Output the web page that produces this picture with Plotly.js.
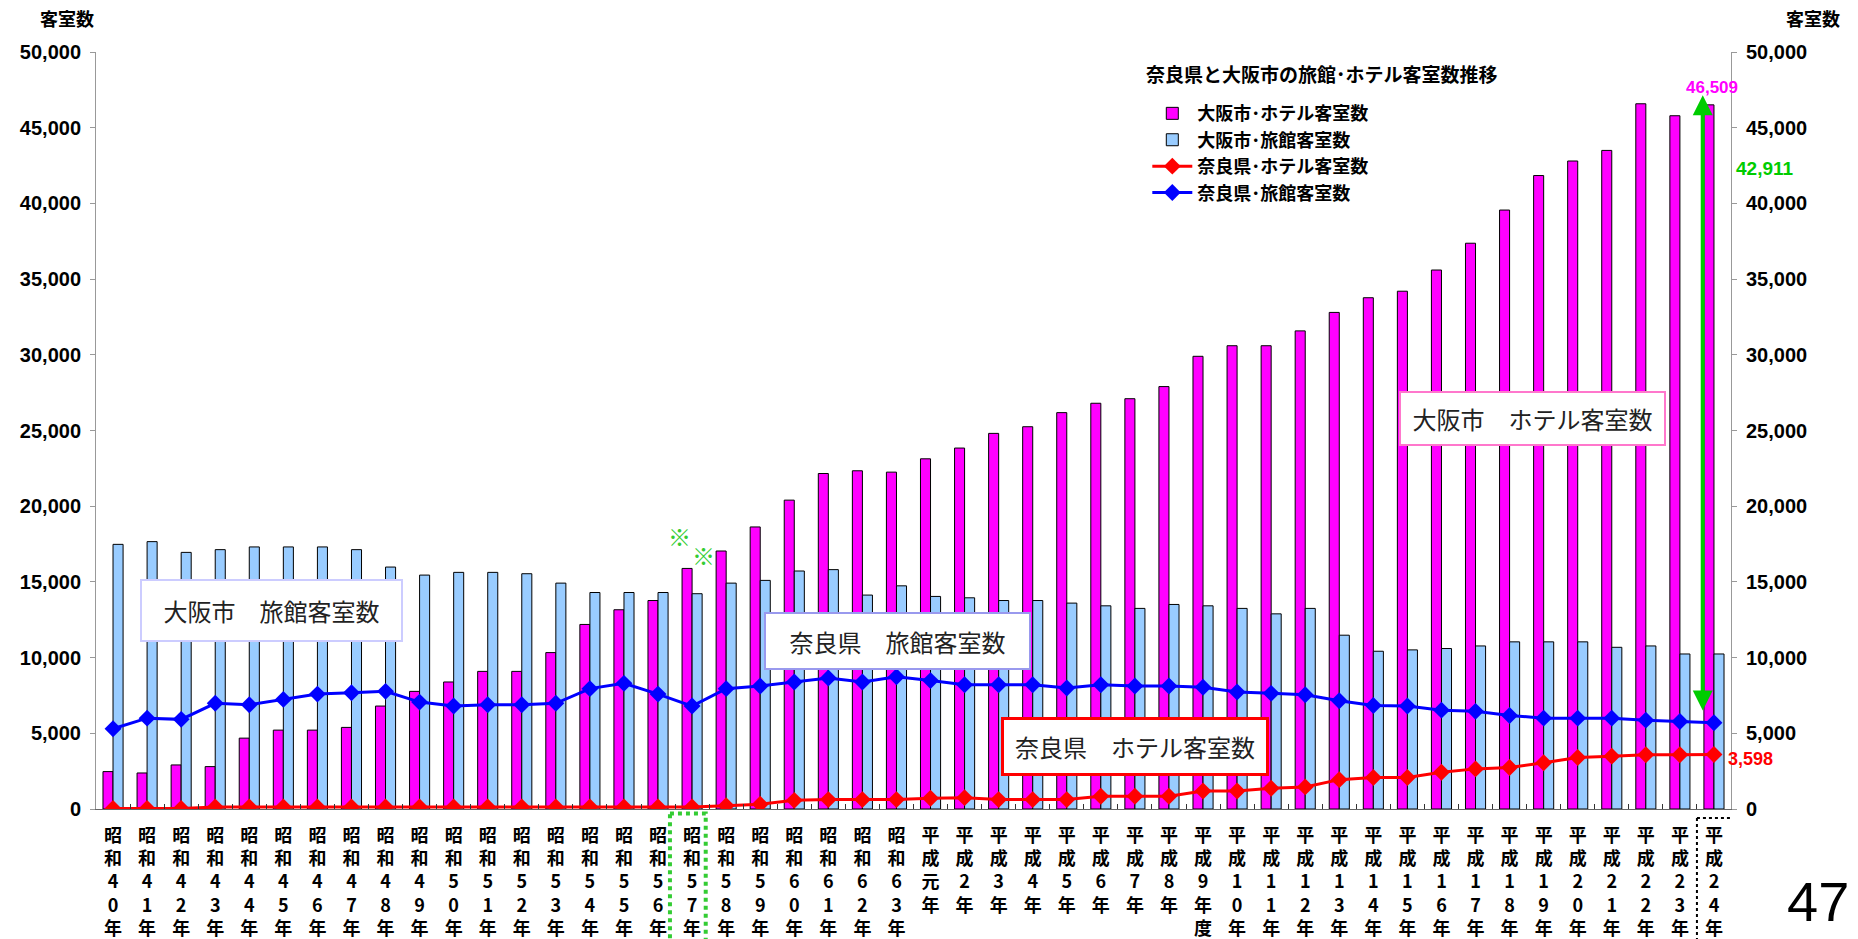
<!DOCTYPE html>
<html>
<head>
<meta charset="utf-8">
<script src="https://cdn.plot.ly/plotly-3.0.1.min.js"></script>
<style>
  html, body { margin: 0; padding: 0; background: #ffffff; }
  #chart { width: 1858px; height: 939px; }
</style>
</head>
<body>
<div id="chart"></div>
<script>
// ---------- data ----------
const yearLabels = [
  "昭和40年","昭和41年","昭和42年","昭和43年","昭和44年","昭和45年","昭和46年","昭和47年",
  "昭和48年","昭和49年","昭和50年","昭和51年","昭和52年","昭和53年","昭和54年","昭和55年",
  "昭和56年","昭和57年","昭和58年","昭和59年","昭和60年","昭和61年","昭和62年","昭和63年",
  "平成元年","平成2年","平成3年","平成4年","平成5年","平成6年","平成7年","平成8年",
  "平成9年度","平成10年","平成11年","平成12年","平成13年","平成14年","平成15年","平成16年",
  "平成17年","平成18年","平成19年","平成20年","平成21年","平成22年","平成23年","平成24年"
];

const osakaHotel = [
  2470, 2380, 2910, 2800, 4680, 5210, 5210, 5390,
  6800, 7770, 8390, 9090, 9090, 10330, 12190, 13160,
  13770, 15890, 17040, 18630, 20400, 22160, 22340, 22250,
  23130, 23840, 24810, 25250, 26180, 26800, 27100, 27900,
  29900, 30600, 30600, 31580, 32800, 33770, 34200, 35600,
  37370, 39560, 41840, 42800, 43500, 46580, 45790, 46509
];

const osakaRyokan = [
  17480, 17660, 16950, 17130, 17310, 17310, 17310, 17130,
  15980, 15450, 15630, 15630, 15540, 14920, 14300, 14300,
  14300, 14220, 14920, 15100, 15720, 15810, 14130, 14740,
  14040, 13950, 13770, 13770, 13600, 13420, 13250, 13510,
  13420, 13250, 12890, 13250, 11480, 10420, 10510, 10600,
  10770, 11040, 11040, 11040, 10680, 10770, 10240, 10240
];

const naraHotel = [
  30, 30, 30, 130, 130, 130, 130, 130,
  130, 130, 130, 130, 130, 130, 130, 130,
  130, 130, 220, 310, 570, 620, 620, 620,
  710, 750, 620, 620, 620, 840, 840, 840,
  1190, 1190, 1370, 1460, 1940, 2080, 2080, 2430,
  2650, 2740, 3050, 3400, 3490, 3580, 3580, 3598
];

const naraRyokan = [
  5300, 6000, 5920, 6980, 6890, 7240, 7590, 7680,
  7770, 7060, 6800, 6890, 6890, 6980, 7950, 8300,
  7590, 6800, 7950, 8120, 8390, 8650, 8390, 8740,
  8480, 8210, 8210, 8210, 7990, 8210, 8120, 8120,
  8040, 7730, 7640, 7550, 7150, 6840, 6800, 6530,
  6450, 6180, 6000, 6000, 6000, 5870, 5780, 5700
];

const seriesNames = ["大阪市･ホテル客室数", "大阪市･旅館客室数", "奈良県･ホテル客室数", "奈良県･旅館客室数"];
const chartTitle = "奈良県と大阪市の旅館･ホテル客室数推移";
const axisTitle = "客室数";
const boxLabels = ["大阪市　旅館客室数", "奈良県　旅館客室数", "奈良県　ホテル客室数", "大阪市　ホテル客室数"];
const pageNumber = "47";
const yTicks = [0, 5000, 10000, 15000, 20000, 25000, 30000, 35000, 40000, 45000, 50000];

// vertical stacked tick labels built from the label strings
const cats = yearLabels.map(s => Array.from(s).join("<br>"));
const last = cats.length - 1;
const gap = osakaHotel[last] - naraHotel[last];

const fmt = v => v.toLocaleString("en-US");

const JP = "Noto Sans CJK JP, sans-serif";
const NUM = "Liberation Sans, Arial, Noto Sans CJK JP, sans-serif";

const traces = [
  {
    type: "bar", name: seriesNames[0], x: cats, y: osakaHotel,
    marker: { color: "#ff00ff", line: { color: "#000000", width: 1 } },
    yaxis: "y", hoverinfo: "skip"
  },
  {
    type: "bar", name: seriesNames[1], x: cats, y: osakaRyokan,
    marker: { color: "#99ccff", line: { color: "#000000", width: 1 } },
    yaxis: "y", hoverinfo: "skip"
  },
  {
    type: "scatter", mode: "lines+markers", name: seriesNames[2], x: cats, y: naraHotel,
    line: { color: "#ff0000", width: 3 },
    marker: { symbol: "diamond", size: 13, color: "#ff0000" },
    yaxis: "y2", hoverinfo: "skip"
  },
  {
    type: "scatter", mode: "lines+markers", name: seriesNames[3], x: cats, y: naraRyokan,
    line: { color: "#0000ff", width: 3 },
    marker: { symbol: "diamond", size: 13, color: "#0000ff" },
    yaxis: "y2", hoverinfo: "skip"
  }
];

const boxStyle = (text, x, y, border, bw, w, h) => ({
  text: text, xref: "paper", yref: "paper", x: x, y: y,
  xanchor: "center", yanchor: "middle", showarrow: false,
  bgcolor: "#ffffff", bordercolor: border, borderwidth: bw, borderpad: 0,
  width: w, height: h,
  font: { family: JP, size: 24, color: "#222222" }
});

const annotations = [
  // axis titles
  { text: axisTitle, xref: "paper", yref: "paper", x: -0.018, y: 1.045, xanchor: "center", yanchor: "middle",
    showarrow: false, font: { family: JP, size: 18, color: "#000", weight: "bold" } },
  { text: axisTitle, xref: "paper", yref: "paper", x: 1.050, y: 1.045, xanchor: "center", yanchor: "middle",
    showarrow: false, font: { family: JP, size: 18, color: "#000", weight: "bold" } },
  // chart title (above legend)
  { text: chartTitle, xref: "paper", yref: "paper", x: 0.641, y: 0.971, xanchor: "left", yanchor: "middle",
    showarrow: false, font: { family: JP, size: 19, color: "#000", weight: "bold" } },
  // text boxes
  boxStyle(boxLabels[0], 0.1073, 0.2616, "#ccccff", 2, 259, 59),
  boxStyle(boxLabels[1], 0.4905, 0.2219, "#9999ee", 2, 263, 54),
  boxStyle(boxLabels[2], 0.6355, 0.0832, "#ff0000", 3, 262, 53),
  boxStyle(boxLabels[3], 0.8783, 0.5165, "#ff77cc", 2, 263, 51),
  // green double arrow
  { text: "", x: last - 0.33, y: 47150, ax: last - 0.33, ay: 6400, xref: "x", yref: "y", axref: "x", ayref: "y",
    showarrow: true, arrowside: "end+start", arrowhead: 2, arrowsize: 1, arrowwidth: 4, arrowcolor: "#00cc00" },
  // value labels
  { text: fmt(osakaHotel[last]), x: last, y: osakaHotel[last], xref: "x", yref: "y",
    xanchor: "center", yanchor: "bottom", yshift: 6, xshift: -2, showarrow: false,
    font: { family: NUM, size: 17, color: "#ff00ff", weight: "bold" } },
  { text: fmt(gap), xref: "paper", x: 1.002, y: 42300, yref: "y", xanchor: "left", yanchor: "middle",
    showarrow: false, font: { family: NUM, size: 19, color: "#00cc00", weight: "bold" } },
  { text: fmt(naraHotel[last]), x: last, y: naraHotel[last], xref: "x", yref: "y",
    xanchor: "left", yanchor: "middle", xshift: 12, yshift: -4, showarrow: false,
    font: { family: NUM, size: 18, color: "#ff0000", weight: "bold" } },
  // ※ marks
  { text: "※", x: 16.64, y: 18050, xref: "x", yref: "y", showarrow: false, borderpad: 0,
    font: { family: JP, size: 23, color: "#33cc33", weight: "bold" } },
  { text: "※", x: 17.34, y: 16750, xref: "x", yref: "y", showarrow: false, borderpad: 0,
    font: { family: JP, size: 23, color: "#33cc33", weight: "bold" } },
  // page number
  { text: pageNumber, xref: "paper", yref: "paper", x: 1.0728, y: -0.079, xanchor: "right", yanchor: "top",
    showarrow: false, borderpad: 0, font: { family: NUM, size: 56, color: "#000" } }
];

const shapes = [
  { type: "rect", xref: "x", yref: "paper", x0: 16.35, x1: 17.4, y0: -0.006, y1: -0.3,
    line: { color: "#33cc33", width: 4, dash: "dot" } },
  { type: "rect", xref: "x", yref: "paper", x0: 46.5, x1: 47.63, y0: -0.012, y1: -0.3,
    line: { color: "#000000", width: 2, dash: "dot" } }
];

const yCommon = {
  range: [0, 50000], tickvals: yTicks, ticktext: yTicks.map(fmt),
  showgrid: false, zeroline: false, showline: true, linecolor: "#999999", linewidth: 1,
  ticks: "outside", ticklen: 5, tickcolor: "#999999", ticklabelstandoff: 5,
  tickfont: { family: NUM, size: 20, color: "#000", weight: "bold" }, fixedrange: true
};

const layout = {
  width: 1858, height: 939,
  margin: { l: 96, r: 127, t: 52, b: 130, autoexpand: false },
  paper_bgcolor: "#ffffff", plot_bgcolor: "#ffffff",
  showlegend: true,
  legend: {
    x: 0.643, y: 0.943, xanchor: "left", yanchor: "top",
    bgcolor: "rgba(0,0,0,0)", borderwidth: 0,
    font: { family: JP, size: 18, color: "#000", weight: "bold" },
    tracegroupgap: 0, itemwidth: 40
  },
  barmode: "group", bargap: 0.41, bargroupgap: 0,
  xaxis: {
    type: "category", automargin: false, range: [-0.5, last + 0.5], autorange: false,
    showgrid: false, zeroline: false, showline: true, linecolor: "#666666", linewidth: 1,
    ticks: "inside", tickson: "boundaries", ticklen: 5, tickcolor: "#333333",
    ticklabelstandoff: 10,
    tickfont: { family: JP, size: 18, color: "#000", weight: "bold" }, tickangle: 0,
    fixedrange: true
  },
  yaxis: Object.assign({}, yCommon, { side: "left", automargin: false }),
  yaxis2: Object.assign({}, yCommon, { side: "right", overlaying: "y", automargin: false }),
  annotations: annotations,
  shapes: shapes
};

Plotly.newPlot("chart", traces, layout, { displayModeBar: false, staticPlot: true });
</script>
</body>
</html>
